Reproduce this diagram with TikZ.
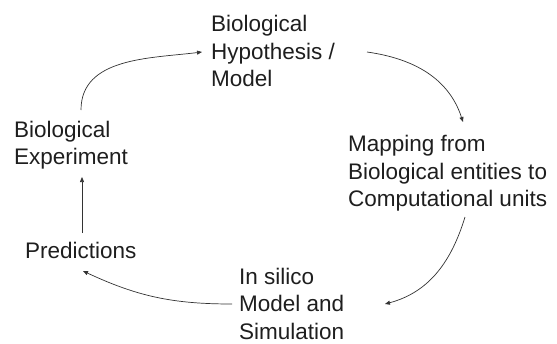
\documentclass[tikz,border=0pt]{standalone}
\usepackage{fontspec}
\setmainfont{Liberation Sans}
\usetikzlibrary{arrows.meta}
\definecolor{ink}{HTML}{1E1E1E}
\definecolor{wire}{HTML}{333333}
\begin{document}
\begin{tikzpicture}[x=1pt,y=-1pt,
  label/.style={anchor=base west,inner sep=0pt,align=left,text=ink,
    font=\fontsize{22.5}{27.5}\selectfont},
  flow/.style={draw=wire,line width=0.7pt,-{Triangle[length=5pt,width=4pt]}}]
\useasboundingbox (0,0) rectangle (557,343);
% cycle stages (each placed by the baseline of its last line)
\node[label] (hyp)  at (211,86.7)  {Biological\\Hypothesis /\\Model};
\node[label] (map)  at (348,206.7) {Mapping from\\Biological entities to\\Computational units};
\node[label] (sim)  at (239,339)   {In silico\\Model and\\Simulation};
\node[label] (pred) at (25,258)    {Predictions};
\node[label] (exp)  at (14,164.8)  {Biological\\Experiment};
% connectors
\draw[flow] ([shift={(67,-54.8)}]exp.base west) to[out=90,in=187]
            ([shift={(-9,-34.7)}]hyp.base west);
\draw[flow] ([shift={(156,-34.7)}]hyp.base west) to[out=-8,in=108]
            ([shift={(115,-84.7)}]map.base west);
\draw[flow] ([shift={(117,10.3)}]map.base west) to[out=-107,in=15]
            ([shift={(146,-35)}]sim.base west);
\draw[flow] ([shift={(-7,-35)}]sim.base west) to[out=180,in=-25]
            ([shift={(58,13)}]pred.base west);
\draw[flow] ([shift={(57,-25)}]pred.base west) --
            ([shift={(68,12.2)}]exp.base west);
\end{tikzpicture}
\end{document}
